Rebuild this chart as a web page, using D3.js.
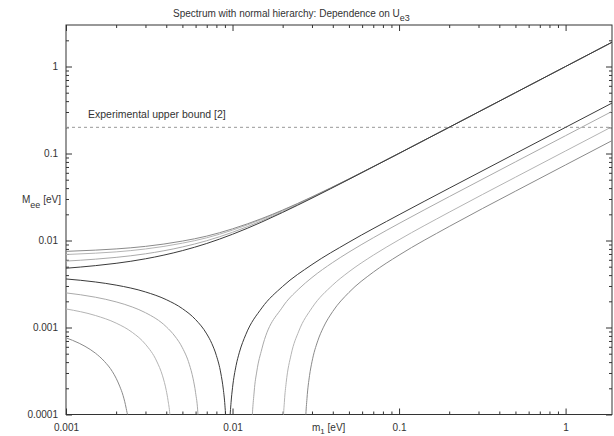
<!DOCTYPE html>
<html><head><meta charset="utf-8">
<script src="https://cdn.jsdelivr.net/npm/d3@7"></script>
<style>body{margin:0;background:#fff} text{font-family:"Liberation Sans",Arial,sans-serif;fill:#333}</style>
</head><body><svg id="c" width="614" height="436"></svg>
<script>
// ---- data ----
const xTickValues = [0.001, 0.01, 0.1, 1];
const xTickLabels = ["0.001", "0.01", "0.1", "1"];
const yTickValues = [0.0001, 0.001, 0.01, 0.1, 1];
const yTickLabels = ["0.0001", "0.001", "0.01", "0.1", "1"];
const upperBound = 0.2;
const titleMain = "Spectrum with normal hierarchy: Dependence on U";
const titleSub = "e3";
const boundLabel = "Experimental upper bound [2]";

// m1 grid for upper (maximal) curves
const m1Upper = [0.001, 0.0015, 0.002, 0.003, 0.005, 0.007, 0.01, 0.015, 0.02, 0.03, 0.05, 0.1, 0.2, 0.5, 1, 1.9];
const upper0 = [0.0048, 0.00514, 0.00547, 0.00616, 0.00765, 0.00924, 0.0118, 0.01632, 0.02103, 0.03071, 0.05044, 0.10022, 0.2001, 0.5, 1.0, 1.9];
const upper1 = [0.0058, 0.0061, 0.0064, 0.00703, 0.00843, 0.00994, 0.01243, 0.01687, 0.02151, 0.03108, 0.05068, 0.10035, 0.2002, 0.5001, 1.0, 1.9];
const upper2 = [0.0069, 0.00715, 0.0074, 0.00799, 0.00932, 0.01074, 0.01316, 0.0175, 0.02205, 0.0315, 0.05096, 0.1005, 0.20025, 0.5002, 1.0, 1.9];
const upper3 = [0.0075, 0.00775, 0.008, 0.00856, 0.00985, 0.01123, 0.01362, 0.01789, 0.02239, 0.03176, 0.05114, 0.10059, 0.2003, 0.5003, 1.0, 1.9];

// lower (minimal) curves, left branch: [m1, Mee]
const lowerLeft0 = [[0.001,0.003614],[0.0015,0.003338],[0.002,0.003071],[0.003,0.002564],[0.004,0.00209],[0.005,0.001648],[0.006,0.001233],[0.007,0.000844],[0.0075,0.000658],[0.008,0.000476],[0.0085,0.0003],[0.0088,0.000196],[0.009,0.000128],[0.0092,0.00006],[0.0093,0.000027],[0.0094,0.000006]];
const lowerLeft1 = [[0.001,0.0025],[0.0015,0.00223],[0.002,0.00197],[0.0025,0.001721],[0.003,0.00148],[0.004,0.00102],[0.0045,0.000798],[0.005,0.000585],[0.0055,0.000378],[0.0058,0.000257],[0.006,0.000178],[0.0062,0.0001],[0.0064,0.000022],[0.00645,0.000005]];
const lowerLeft2 = [[0.001,0.001635],[0.0015,0.001375],[0.002,0.001123],[0.0025,0.000879],[0.003,0.000642],[0.0035,0.000412],[0.0038,0.000278],[0.004,0.000189],[0.0041,0.000145],[0.0042,0.000102],[0.0044,0.000018],[0.00443,0.000005]];
const lowerLeft3 = [[0.001,0.000761],[0.0012,0.000659],[0.0013,0.000608],[0.0015,0.000508],[0.0017,0.000408],[0.0019,0.000311],[0.002,0.000261],[0.0021,0.000212],[0.0022,0.000166],[0.0023,0.000117],[0.0024,0.00007],[0.0025,0.000022],[0.00252,0.000005]];

// lower curves, right branch
const lowerRight0 = [[0.0094,0.000006],[0.0095,0.00004],[0.0096,0.000073],[0.0098,0.000138],[0.01,0.000203],[0.0105,0.000364],[0.011,0.00052],[0.012,0.000825],[0.015,0.001679],[0.02,0.002967],[0.03,0.005288],[0.05,0.009565],[0.1,0.019781],[0.2,0.03989],[0.5,0.09996],[1,0.19998],[1.9,0.38]];
const lowerRight1 = [[0.01285,0.000008],[0.0129,0.000028],[0.013,0.000055],[0.0135,0.000186],[0.014,0.000316],[0.015,0.000567],[0.02,0.001726],[0.025,0.002773],[0.03,0.003752],[0.04,0.005596],[0.05,0.007353],[0.07,0.010745],[0.1,0.015699],[0.2,0.031908],[0.5,0.080132],[1,0.160368],[1.9,0.304753]];
const lowerRight2 = [[0.0197,0.000005],[0.0198,0.000015],[0.02,0.000052],[0.0205,0.000143],[0.021,0.000232],[0.0225,0.000492],[0.025,0.000908],[0.03,0.001683],[0.04,0.003084],[0.05,0.004372],[0.07,0.006776],[0.1,0.010194],[0.2,0.021145],[0.5,0.053397],[1,0.106951],[1.9,0.203284]];
const lowerRight3 = [[0.0268,0.000005],[0.027,0.000024],[0.0275,0.000089],[0.028,0.000153],[0.029,0.00028],[0.03,0.000404],[0.0325,0.000703],[0.035,0.00099],[0.04,0.001532],[0.05,0.002529],[0.07,0.004324],[0.1,0.006792],[0.2,0.014493],[0.5,0.036877],[1,0.07394],[1.9,0.140578]];

// ---- drawing ----
const svg = d3.select("#c");
const L = 66, R = 612, T = 25, B = 414.5;
const x = d3.scaleLog().domain([0.001, 1.9]).range([L, R]);
const y = d3.scaleLog().domain([0.0001, 3]).range([B, T]);

function minorTicks(lo, hi) {
  const out = [];
  for (let e = Math.floor(Math.log10(lo)); e <= Math.ceil(Math.log10(hi)); e++) {
    for (let k = 2; k <= 9; k++) { const v = k * Math.pow(10, e); if (v > lo && v < hi) out.push(v); }
  }
  return out;
}
const xMinor = minorTicks(0.001, 1.9), yMinor = minorTicks(0.0001, 3);

svg.append("defs").append("clipPath").attr("id", "clip")
  .append("rect").attr("x", L).attr("y", T).attr("width", R - L).attr("height", B - T);

function styleAxis(g) {
  g.select(".domain").remove();
  g.selectAll("line").attr("stroke", "#333").attr("stroke-width", 1);
  g.selectAll("text").attr("font-size", 10).attr("fill", "#333")
    .attr("font-family", "'Liberation Sans', Arial, sans-serif");
}
// bottom
svg.append("g").attr("transform", `translate(0,${B})`)
  .call(d3.axisBottom(x).tickValues(xTickValues).tickFormat((d, i) => xTickLabels[i]).tickSize(-6).tickSizeOuter(0).tickPadding(9))
  .call(styleAxis);
svg.append("g").attr("transform", `translate(0,${B})`)
  .call(d3.axisBottom(x).tickValues(xMinor).tickFormat("").tickSize(-3).tickSizeOuter(0)).call(styleAxis);
// top
svg.append("g").attr("transform", `translate(0,${T})`)
  .call(d3.axisTop(x).tickValues(xTickValues).tickFormat("").tickSize(-6).tickSizeOuter(0)).call(styleAxis);
svg.append("g").attr("transform", `translate(0,${T})`)
  .call(d3.axisTop(x).tickValues(xMinor).tickFormat("").tickSize(-3).tickSizeOuter(0)).call(styleAxis);
// left
svg.append("g").attr("transform", `translate(${L},0)`)
  .call(d3.axisLeft(y).tickValues(yTickValues).tickFormat((d, i) => yTickLabels[i]).tickSize(-6).tickSizeOuter(0).tickPadding(8))
  .call(styleAxis);
svg.append("g").attr("transform", `translate(${L},0)`)
  .call(d3.axisLeft(y).tickValues(yMinor).tickFormat("").tickSize(-3).tickSizeOuter(0)).call(styleAxis);
// right
svg.append("g").attr("transform", `translate(${R},0)`)
  .call(d3.axisRight(y).tickValues(yTickValues).tickFormat("").tickSize(-6).tickSizeOuter(0)).call(styleAxis);
svg.append("g").attr("transform", `translate(${R},0)`)
  .call(d3.axisRight(y).tickValues(yMinor).tickFormat("").tickSize(-3).tickSizeOuter(0)).call(styleAxis);

// frame
svg.append("rect").attr("x", L).attr("y", T).attr("width", R - L).attr("height", B - T)
  .attr("fill", "none").attr("stroke", "#333").attr("stroke-width", 1);

// upper bound dashed line
const plot = svg.append("g").attr("clip-path", "url(#clip)");
plot.append("line").attr("x1", x(0.001)).attr("x2", x(1.9)).attr("y1", y(upperBound)).attr("y2", y(upperBound))
  .attr("stroke", "#999").attr("stroke-width", 1).attr("stroke-dasharray", "3,3");

const line = d3.line().x(d => x(d[0])).y(d => y(d[1])).curve(d3.curveMonotoneX);
const zipU = arr => m1Upper.map((m, i) => [m, arr[i]]);
const series = [
  { d: zipU(upper1), c: "#aaa" }, { d: zipU(upper2), c: "#b4b4b4" }, { d: zipU(upper3), c: "#8a8a8a" },
  { d: lowerLeft1, c: "#aaa" }, { d: lowerLeft2, c: "#b4b4b4" }, { d: lowerLeft3, c: "#8a8a8a" },
  { d: lowerRight1, c: "#aaa" }, { d: lowerRight2, c: "#b4b4b4" }, { d: lowerRight3, c: "#8a8a8a" },
  { d: zipU(upper0), c: "#3a3a3a" }, { d: lowerLeft0, c: "#3a3a3a" }, { d: lowerRight0, c: "#3a3a3a" }
];
plot.selectAll("path.s").data(series).enter().append("path").attr("class", "s")
  .attr("d", s => line(s.d)).attr("fill", "none").attr("stroke", s => s.c).attr("stroke-width", 1);

// texts
const title = svg.append("text").attr("x", 173).attr("y", 17).attr("font-size", 10);
title.append("tspan").text(titleMain);
title.append("tspan").attr("dy", 4).attr("font-size", 9).text(titleSub);

svg.append("text").attr("x", 88).attr("y", 118).attr("font-size", 10.5).text(boundLabel);

const yl = svg.append("text").attr("x", 22).attr("y", 203).attr("font-size", 10);
yl.append("tspan").text("M");
yl.append("tspan").attr("dy", 5).attr("font-size", 9).text("ee");
yl.append("tspan").attr("dy", -5).text(" [eV]");

const xl = svg.append("text").attr("x", 312).attr("y", 431).attr("font-size", 10);
xl.append("tspan").text("m");
xl.append("tspan").attr("dy", 3).attr("font-size", 8).text("1");
xl.append("tspan").attr("dy", -3).text(" [eV]");
</script></body></html>
